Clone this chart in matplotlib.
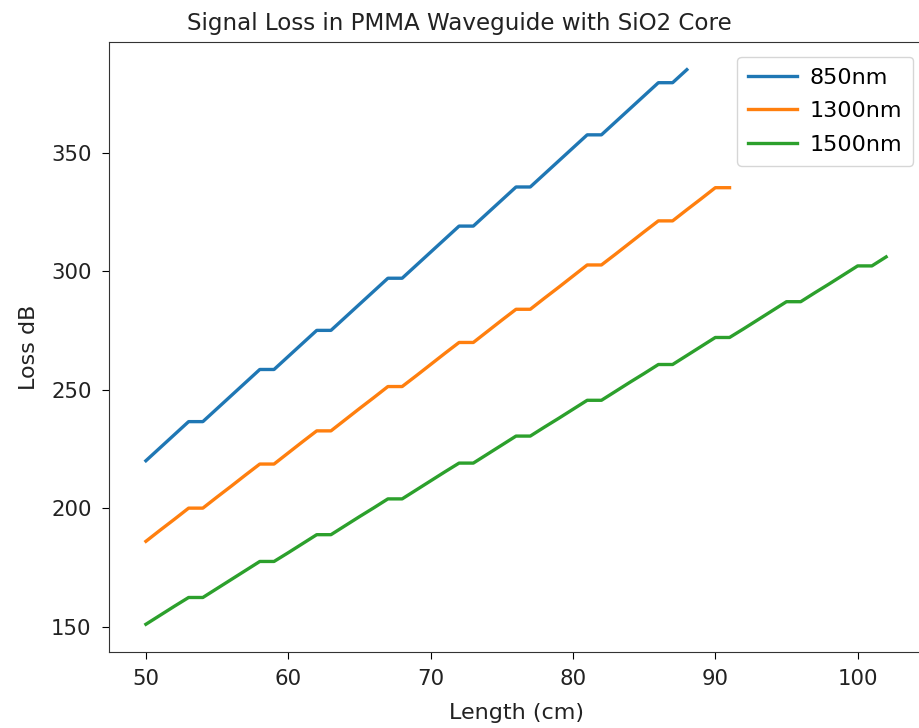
import matplotlib

matplotlib.use("Agg")
import matplotlib.pyplot as plt

# cable length in cm, one point per cm
LENGTH_850 = list(range(50, 89))
LENGTH_1300 = list(range(50, 92))
LENGTH_1500 = list(range(50, 103))

LOSS_850 = [
    220.0, 225.5, 231.0, 236.5, 236.5, 242.0, 247.5, 253.0, 258.5, 258.5,
    264.0, 269.5, 275.0, 275.0, 280.5, 286.0, 291.5, 297.0, 297.0, 302.5,
    308.0, 313.5, 319.0, 319.0, 324.5, 330.0, 335.5, 335.5, 341.0, 346.5,
    352.0, 357.5, 357.5, 363.0, 368.5, 374.0, 379.5, 379.5, 385.0,
]
LOSS_1300 = [
    186.0, 190.7, 195.3, 200.0, 200.0, 204.7, 209.3, 214.0, 218.6, 218.6,
    223.3, 228.0, 232.6, 232.6, 237.3, 242.0, 246.6, 251.3, 251.3, 255.9,
    260.6, 265.3, 269.9, 269.9, 274.6, 279.3, 283.9, 283.9, 288.6, 293.2,
    297.9, 302.6, 302.6, 307.2, 311.9, 316.6, 321.2, 321.2, 325.9, 330.5,
    335.2, 335.2,
]
LOSS_1500 = [
    151.0, 154.8, 158.6, 162.3, 162.3, 166.1, 169.9, 173.7, 177.5, 177.5,
    181.2, 185.0, 188.8, 188.8, 192.6, 196.4, 200.1, 203.9, 203.9, 207.7,
    211.5, 215.3, 219.0, 219.0, 222.8, 226.6, 230.4, 230.4, 234.2, 237.9,
    241.7, 245.5, 245.5, 249.3, 253.1, 256.8, 260.6, 260.6, 264.4, 268.2,
    272.0, 272.0, 275.7, 279.5, 283.3, 287.1, 287.1, 290.9, 294.6, 298.4,
    302.2, 302.2, 306.0,
]

fig = plt.figure(figsize=(9.19, 7.28), dpi=100)
ax = fig.add_axes([0.1185, 0.1044, 0.886, 0.838])

ax.plot(LENGTH_850, LOSS_850, label="850nm", linewidth=2.4)
ax.plot(LENGTH_1300, LOSS_1300, label="1300nm", linewidth=2.4)
ax.plot(LENGTH_1500, LOSS_1500, label="1500nm", linewidth=2.4)

# title sits at the figure centre in the reference, not over the axes
fig.text(0.5, 1 - 30 / 728, "Signal Loss in PMMA Waveguide with SiO2 Core",
         fontsize=16.6, ha="center", va="baseline", color="#222222")
ax.set_xlabel("Length (cm)", fontsize=16, labelpad=9.5, color="#222222")
ax.set_ylabel("Loss dB", fontsize=16, labelpad=8.5, color="#222222")
ax.tick_params(labelsize=15.3, length=5, pad=7.5, labelcolor="#222222")
for spine in ax.spines.values():
    spine.set_color("#333333")
ax.legend(fontsize=16, loc="upper right", bbox_to_anchor=(1.0, 0.992),
          labelspacing=0.6, handlelength=2.2, handletextpad=0.55,
          borderpad=0.5, borderaxespad=0.45)

fig.savefig("out.png", dpi=100)
